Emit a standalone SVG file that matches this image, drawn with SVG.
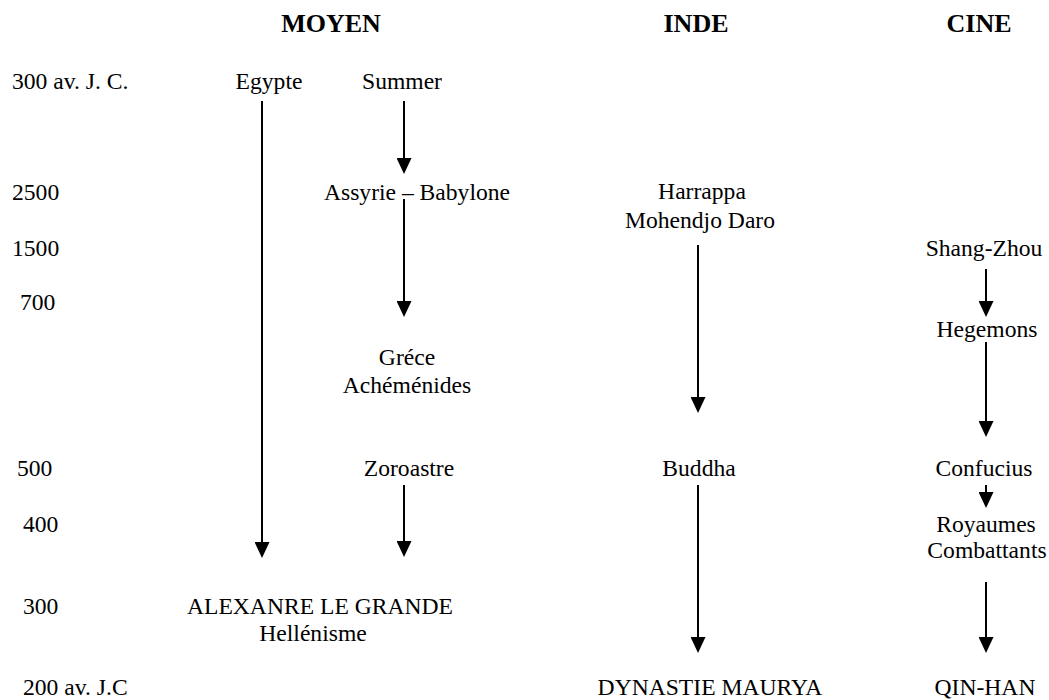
<svg xmlns="http://www.w3.org/2000/svg" width="1049" height="700" viewBox="0 0 1049 700">
<style>
text{font-family:"Liberation Serif","Times New Roman",serif;font-size:23.6px;fill:#000}
.h{font-size:26px;font-weight:bold;text-anchor:middle}
.c{text-anchor:middle}
.arr line{stroke:#000;stroke-width:2;marker-end:url(#ah)}
</style>
<defs>
<marker id="ah" viewBox="0 0 16 15" refX="8" refY="7.5" markerWidth="16" markerHeight="15" markerUnits="userSpaceOnUse" orient="auto">
<path d="M0,0 L16,7.5 L0,15 z" fill="#000"/>
</marker>
</defs>
<rect width="1049" height="700" fill="#fff"/>
<g id="headings">
<text class="h" x="331" y="32">MOYEN</text>
<text class="h" x="696" y="32">INDE</text>
<text class="h" x="979" y="32">CINE</text>
</g>
<g id="dates">
<text x="12" y="89">300 av. J. C.</text>
<text x="12" y="200">2500</text>
<text x="12" y="256">1500</text>
<text x="20" y="310">700</text>
<text x="17" y="476">500</text>
<text x="23" y="532">400</text>
<text x="23" y="614">300</text>
<text x="23" y="695">200 av. J.C</text>
</g>
<g id="egypte"><text class="c" x="269" y="89">Egypte</text></g>
<g id="summer"><text class="c" x="402" y="89">Summer</text></g>
<g id="assyrie"><text class="c" x="417" y="200">Assyrie – Babylone</text></g>
<g id="grece"><text class="c" x="407" y="365">Gréce</text><text class="c" x="407" y="393">Achéménides</text></g>
<g id="zoroastre"><text class="c" x="409" y="476">Zoroastre</text></g>
<g id="alexandre"><text class="c" x="320" y="614">ALEXANRE LE GRANDE</text><text class="c" x="313" y="641">Hellénisme</text></g>
<g id="harrappa"><text class="c" x="702" y="199">Harrappa</text><text class="c" x="700" y="228">Mohendjo Daro</text></g>
<g id="buddha"><text class="c" x="699" y="476">Buddha</text></g>
<g id="maurya"><text class="c" x="710" y="695">DYNASTIE MAURYA</text></g>
<g id="shang"><text class="c" x="984" y="256">Shang-Zhou</text></g>
<g id="hegemons"><text class="c" x="987" y="337">Hegemons</text></g>
<g id="confucius"><text class="c" x="984" y="476">Confucius</text></g>
<g id="royaumes"><text class="c" x="986" y="532">Royaumes</text><text class="c" x="987" y="558">Combattants</text></g>
<g id="qinhan"><text class="c" x="985" y="695">QIN-HAN</text></g>
<g id="connectors" class="arr">
<line x1="262" y1="101" x2="262" y2="550"/>
<line x1="404" y1="101" x2="404" y2="166"/>
<line x1="404" y1="199" x2="404" y2="309"/>
<line x1="404" y1="485" x2="404" y2="549"/>
<line x1="698" y1="245" x2="698" y2="405"/>
<line x1="698" y1="485" x2="698" y2="645"/>
<line x1="986" y1="269" x2="986" y2="309"/>
<line x1="986" y1="342" x2="986" y2="429"/>
<line x1="986" y1="485" x2="986" y2="500"/>
<line x1="986" y1="582" x2="986" y2="645"/>
</g>
</svg>
